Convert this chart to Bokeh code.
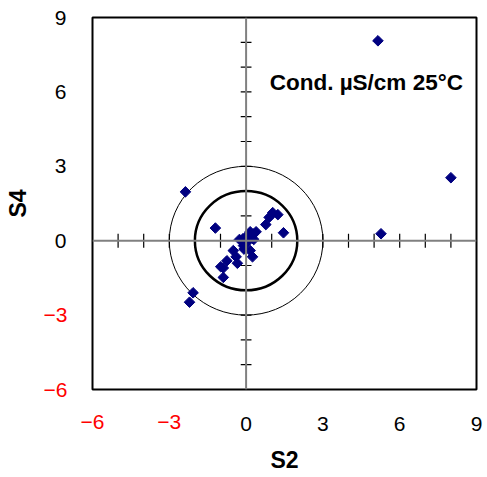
import numpy as np
from bokeh.plotting import figure
from bokeh.models import Span, Label, FixedTicker, LinearAxis
from bokeh.embed import file_html
from bokeh.resources import INLINE

# data
s2 = [5.15, 8.00, 5.27, -2.37, -2.21, -2.07, -1.20, 1.46, 1.24, 1.04, 0.90, 0.77,
      0.39, 0.29, 0.16, 0.03, -0.13, -0.26, -0.04, -0.08, 0.25, -0.50, -0.39, -0.34,
      -0.75, -0.99, -0.89, -0.89, 0.10, 0.16, 0.20, 0.05, 0.30, -0.10]
s4 = [8.06, 2.54, 0.28, 1.97, -2.48, -2.10, 0.51, 0.32, 1.05, 1.13, 0.94, 0.65,
      0.36, 0.27, 0.36, 0.20, 0.07, 0.05, -0.13, -0.34, -0.65, -0.40, -0.65, -0.91,
      -0.81, -1.05, -1.10, -1.48, 0.10, -0.40, 0.15, -0.05, 0.05, -0.20]

pos_ticks = [0, 3, 6, 9]
neg_ticks = [-6, -3]
circle_radii = [2, 3]
title_text = "Cond. µS/cm 25°C"
x_label = "S2"
y_label = "S4"

FONT = "Liberation Sans"
TICK_FS = 21
LBL_FS = "23px"

p = figure(width=487, height=477, x_range=(-6, 9), y_range=(-6, 9),
           x_axis_type=None, y_axis_type=None,
           output_backend="svg", toolbar_location=None,
           min_border_left=92, min_border_right=11, min_border_top=17,
           min_border_bottom=88)
p.grid.visible = False
p.background_fill_color = "white"
p.border_fill_color = "white"
p.outline_line_color = "black"
p.outline_line_width = 2


def make_axis(ticks, color, standoff, label=None, label_standoff=0):
    ax = LinearAxis(ticker=FixedTicker(ticks=ticks))
    ax.axis_line_color = None
    ax.major_tick_line_color = None
    ax.minor_tick_line_color = None
    ax.major_tick_out = 0
    ax.major_tick_in = 0
    ax.minor_tick_out = 0
    ax.minor_tick_in = 0
    ax.major_label_text_font = FONT
    ax.major_label_text_font_size = f"{TICK_FS}px"
    ax.major_label_text_color = color
    ax.major_label_standoff = standoff
    if label:
        ax.axis_label = label
        ax.axis_label_text_font = FONT
        ax.axis_label_text_font_size = LBL_FS
        ax.axis_label_text_font_style = "bold"
        ax.axis_label_text_color = "black"
        ax.axis_label_standoff = label_standoff
    return ax


# x axes: red negatives nearest the frame, black positives pulled back onto same line
xa = make_axis(neg_ticks, "red", 25)
xb = make_axis(pos_ticks, "black", -15, x_label, 13)
p.add_layout(xa, "below")
p.add_layout(xb, "below")

ya = make_axis(neg_ticks, "red", 25)
yb = make_axis(pos_ticks, "black", -26, y_label, 21)
p.add_layout(ya, "left")
p.add_layout(yb, "left")

# cross axes
p.add_layout(Span(location=0, dimension="width", line_color="#808080", line_width=2))
p.add_layout(Span(location=0, dimension="height", line_color="#808080", line_width=2))

xt = [v for v in range(-5, 9) if v != 0]
p.segment(x0=xt, x1=xt, y0=[-0.28] * len(xt), y1=[0.28] * len(xt),
          line_color="black", line_width=1.2)
yt = [v for v in range(-5, 9) if v != 0]
p.segment(x0=[-0.21] * len(yt), x1=[0.21] * len(yt), y0=yt, y1=yt,
          line_color="black", line_width=1.2)

# circles
p.ellipse(x=0, y=0, width=2 * circle_radii[0], height=2 * circle_radii[0],
          fill_color=None, line_color="black", line_width=2.5)
p.ellipse(x=0, y=0, width=2 * circle_radii[1], height=2 * circle_radii[1],
          fill_color=None, line_color="black", line_width=1)

# points
p.scatter(s2, s4, marker="square", angle=np.pi / 4, size=7.5,
          fill_color="#000080", line_color="#000080")

p.add_layout(Label(x=0.92, y=6.37, text=title_text, text_align="left",
                   text_baseline="middle", text_font=FONT, text_font_size="22.5px",
                   text_font_style="bold", text_color="black"))

open("out.html", "w").write(file_html(p, INLINE))
